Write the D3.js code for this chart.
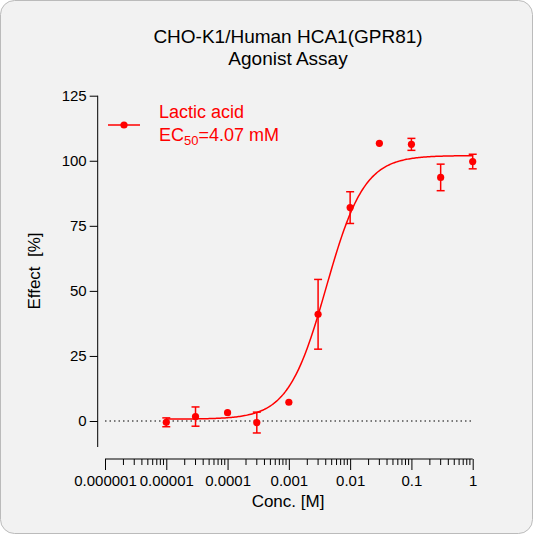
<!DOCTYPE html>
<html><head><meta charset="utf-8">
<script src="https://cdn.jsdelivr.net/npm/d3@7"></script>
<style>body{margin:0;background:#fff}svg{display:block;font-family:Arial,"Liberation Sans",sans-serif}</style>
</head><body>
<script>
const conc = [1e-5, 3e-5, 1e-4, 3e-4, 1e-3, 3e-3, 1e-2, 3e-2, 1e-1, 3e-1, 1];
const effect = [-0.5, 1.7, 3.2, -0.6, 7.2, 41, 82, 106.7, 106.3, 93.6, 99.7];
const errs = [1.7, 3.7, 0, 4, 0, 13.4, 6.1, 0, 2.3, 5.1, 2.8];
const xTicks = [1e-6, 1e-5, 1e-4, 1e-3, 1e-2, 1e-1, 1];
const xTickLabels = ["0.000001", "0.00001", "0.0001", "0.001", "0.01", "0.1", "1"];
const yTicks = [0, 25, 50, 75, 100, 125];
const fit = {bottom: 0.7, top: 102, ec50: 4.07e-3, hill: 1.4};

const W = 533, H = 534;
const svg = d3.select("body").append("svg").attr("width", W).attr("height", H);
svg.append("rect").attr("x", 0.5).attr("y", 0.5).attr("width", W - 1).attr("height", H - 1)
    .attr("rx", 14).attr("fill", "#f2f2f2").attr("stroke", "#bbb");

const x = d3.scaleLog().domain([1e-6, 1]).range([105, 472.7]);
const y = d3.scaleLinear().domain([0, 125]).range([421, 95.7]);
const red = "#ff0000";

// y axis
svg.append("g").attr("transform", "translate(97.7,0)")
    .call(d3.axisLeft(y).tickValues(yTicks).tickSize(8).tickSizeOuter(0))
    .call(g => g.select(".domain").attr("d", "M0,95.7V447"))
    .call(g => g.selectAll("text").attr("font-size", 15).attr("fill", "#000"));

// x axis with minor ticks
const minor = [];
for (let e = -6; e < 0; e++) for (let k = 2; k <= 9; k++) minor.push(k * Math.pow(10, e));
const xg = svg.append("g").attr("transform", "translate(0,459)");
xg.call(d3.axisBottom(x).tickValues(xTicks).tickFormat((d, i) => xTickLabels[i]).tickSize(11).tickSizeOuter(0))
    .call(g => g.select(".domain").attr("d", "M105,0H472.7"))
    .call(g => g.selectAll("text").attr("font-size", 15).attr("fill", "#000").attr("dy", "0.85em"));
xg.selectAll(".minor").data(minor).enter().append("line")
    .attr("x1", d => x(d)).attr("x2", d => x(d)).attr("y1", 0).attr("y2", 6).attr("stroke", "#000");

// zero line
svg.append("line").attr("x1", 105).attr("x2", 472).attr("y1", y(0)).attr("y2", y(0))
    .attr("stroke", "#000").attr("stroke-dasharray", "1.5,3");

// fitted curve
const curveX = d3.range(-5, 0.001, 0.02).map(e => Math.pow(10, e));
const model = c => fit.bottom + (fit.top - fit.bottom) / (1 + Math.pow(fit.ec50 / c, fit.hill));
svg.append("path").datum(curveX)
    .attr("d", d3.line().x(d => x(d)).y(d => y(model(d))))
    .attr("fill", "none").attr("stroke", red).attr("stroke-width", 1.5);

// error bars
const pts = conc.map((c, i) => ({c, v: effect[i], e: errs[i]}));
const eb = svg.selectAll(".eb").data(pts.filter(d => d.e > 0)).enter().append("g").attr("stroke", red).attr("stroke-width", 1.5);
eb.append("line").attr("x1", d => x(d.c)).attr("x2", d => x(d.c)).attr("y1", d => y(d.v - d.e)).attr("y2", d => y(d.v + d.e));
eb.append("line").attr("x1", d => x(d.c) - 4).attr("x2", d => x(d.c) + 4).attr("y1", d => y(d.v - d.e)).attr("y2", d => y(d.v - d.e));
eb.append("line").attr("x1", d => x(d.c) - 4).attr("x2", d => x(d.c) + 4).attr("y1", d => y(d.v + d.e)).attr("y2", d => y(d.v + d.e));

svg.selectAll(".pt").data(pts).enter().append("circle")
    .attr("cx", d => x(d.c)).attr("cy", d => y(d.v)).attr("r", 3.6).attr("fill", red);

// legend
svg.append("line").attr("x1", 108).attr("x2", 140).attr("y1", 125).attr("y2", 125).attr("stroke", red).attr("stroke-width", 1.5);
svg.append("circle").attr("cx", 124).attr("cy", 125).attr("r", 3.6).attr("fill", red);
svg.append("text").attr("x", 159).attr("y", 118).attr("font-size", 18).attr("fill", red).text("Lactic acid");
const t2 = svg.append("text").attr("x", 159).attr("y", 141).attr("font-size", 18).attr("fill", red);
t2.append("tspan").text("EC");
t2.append("tspan").attr("font-size", 13).attr("dy", 4).text("50");
t2.append("tspan").attr("dy", -4).text("=4.07 mM");

// titles
svg.append("text").attr("x", 288).attr("y", 43).attr("text-anchor", "middle").attr("font-size", 19).text("CHO-K1/Human HCA1(GPR81)");
svg.append("text").attr("x", 288).attr("y", 65).attr("text-anchor", "middle").attr("font-size", 19).text("Agonist Assay");
svg.append("text").attr("x", 288).attr("y", 507).attr("text-anchor", "middle").attr("font-size", 17).text("Conc. [M]");
svg.append("text").attr("transform", "translate(40,271) rotate(-90)").attr("text-anchor", "middle")
    .attr("font-size", 17).attr("xml:space", "preserve").text("Effect  [%]");
</script>
</body></html>
